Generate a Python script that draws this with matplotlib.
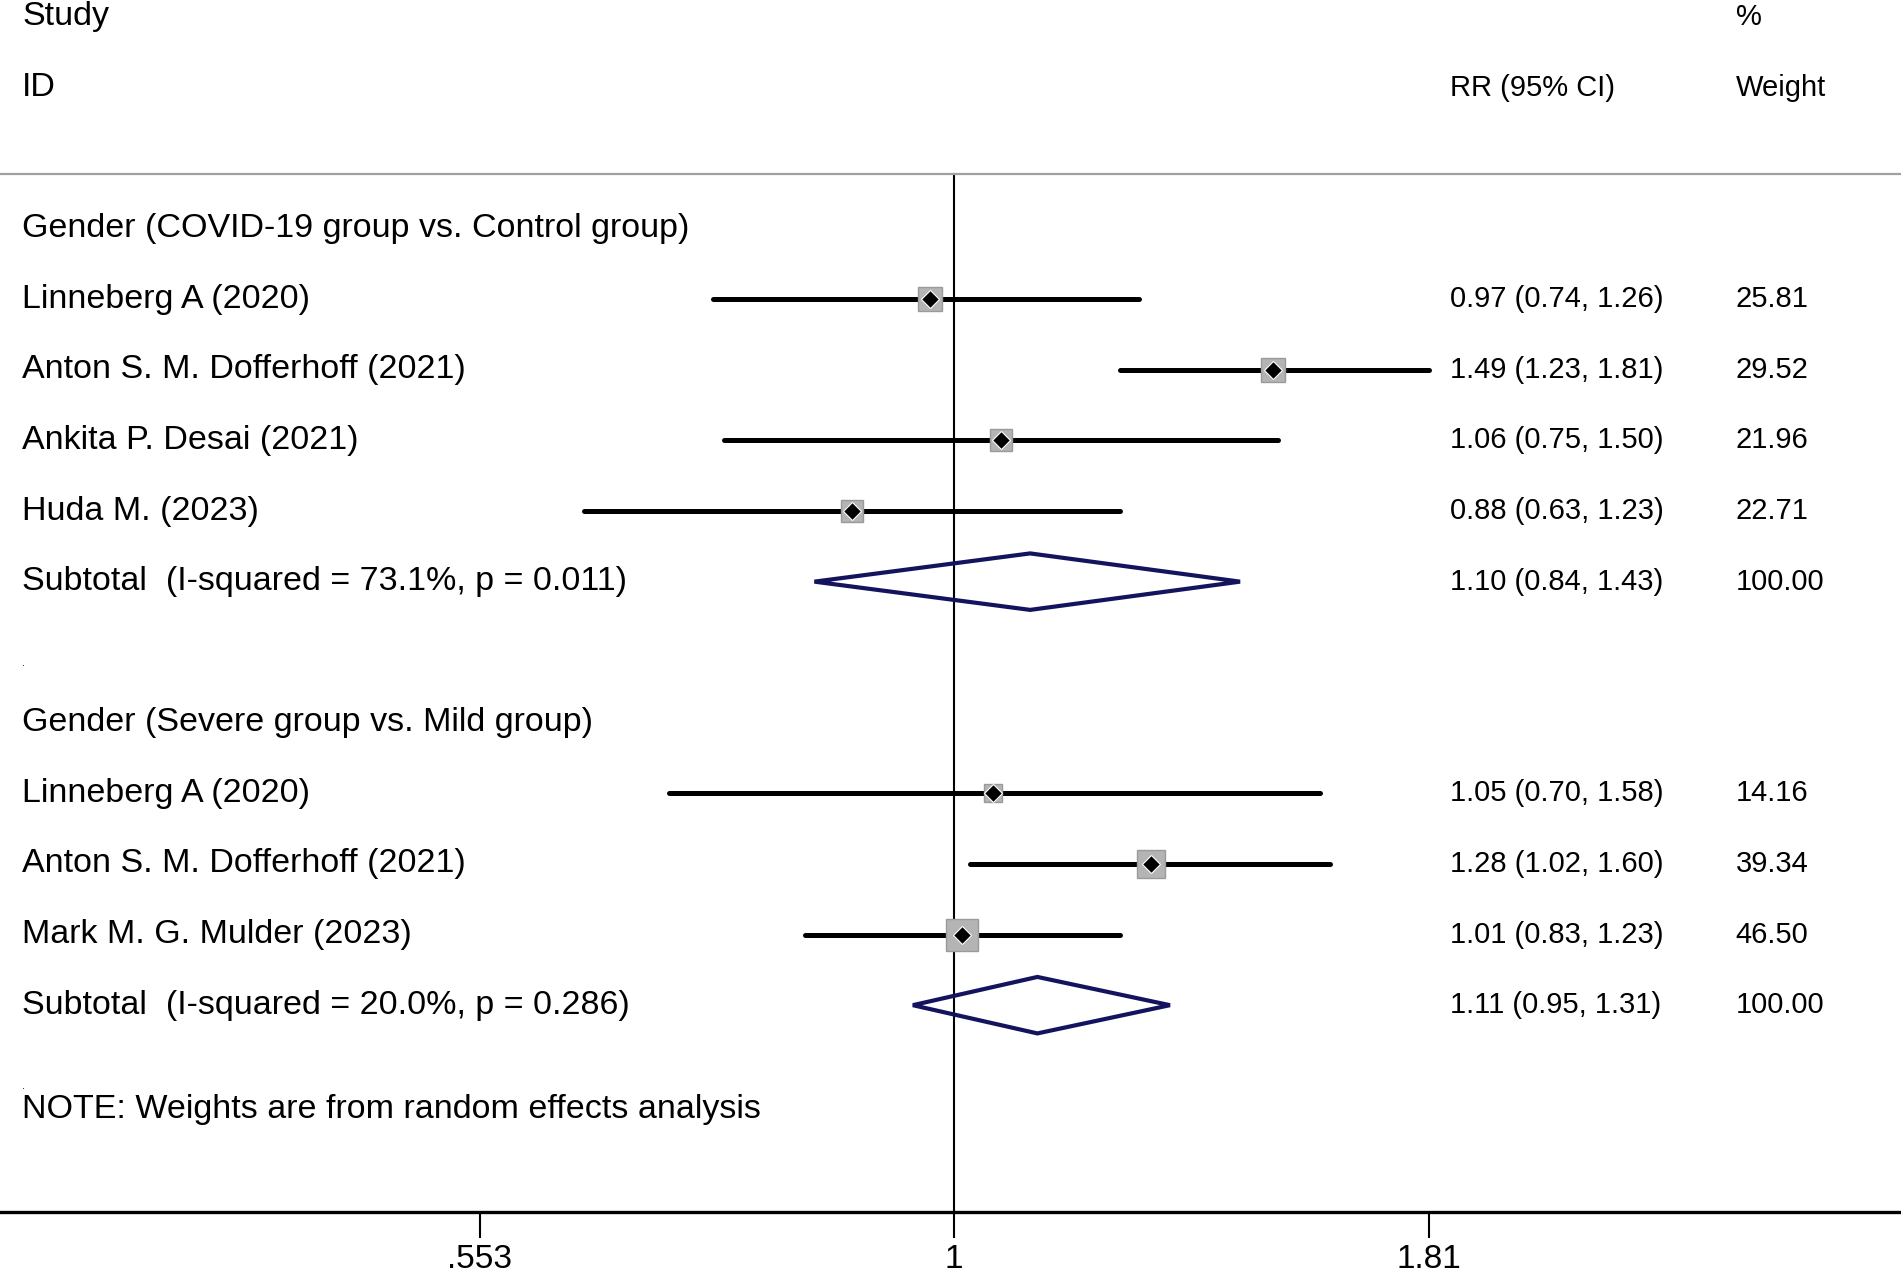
import numpy as np
import matplotlib
matplotlib.use('Agg')
import matplotlib.pyplot as plt
from matplotlib.patches import Polygon
from matplotlib.ticker import FixedLocator, FixedFormatter, NullLocator

plt.rcParams['font.family'] = ['Liberation Sans', 'DejaVu Sans']

# data
group_titles = ['Gender (COVID-19 group vs. Control group)',
                'Gender (Severe group vs. Mild group)']

studies_1 = ['Linneberg A (2020)', 'Anton S. M. Dofferhoff (2021)',
             'Ankita P. Desai (2021)', 'Huda M. (2023)']
rr_1 = [0.97, 1.49, 1.06, 0.88]
lo_1 = [0.74, 1.23, 0.75, 0.63]
hi_1 = [1.26, 1.81, 1.50, 1.23]
wt_1 = [25.81, 29.52, 21.96, 22.71]
sub_1 = [1.10, 0.84, 1.43]
het_1 = 'Subtotal  (I-squared = 73.1%, p = 0.011)'

studies_2 = ['Linneberg A (2020)', 'Anton S. M. Dofferhoff (2021)',
             'Mark M. G. Mulder (2023)']
rr_2 = [1.05, 1.28, 1.01]
lo_2 = [0.70, 1.02, 0.83]
hi_2 = [1.58, 1.60, 1.23]
wt_2 = [14.16, 39.34, 46.50]
sub_2 = [1.11, 0.95, 1.31]
het_2 = 'Subtotal  (I-squared = 20.0%, p = 0.286)'

tick_vals = [0.553, 1, 1.81]
tick_labels = ['.553', '1', '1.81']
note = 'NOTE: Weights are from random effects analysis'

FS_L = 24.5   # left labels
FS_R = 21     # RR / weight columns
FS_T = 24     # tick labels
NAVY = '#14145e'

fig = plt.figure(figsize=(19.01, 12.79), dpi=100)
ax = fig.add_axes([0, 1 - 1212 / 1279, 1, 1212 / 1279])
ax.set_xscale('log')
ax.set_xlim(0.3035, 3.267)
ax.set_ylim(16.93, -0.24)

for s in ['top', 'left', 'right']:
    ax.spines[s].set_visible(False)
ax.spines['bottom'].set_linewidth(2.4)
ax.yaxis.set_major_locator(NullLocator())
ax.xaxis.set_minor_locator(NullLocator())
ax.xaxis.set_major_locator(FixedLocator(tick_vals))
ax.xaxis.set_major_formatter(FixedFormatter(tick_labels))
ax.tick_params(axis='x', length=19, width=1.5, pad=4, labelsize=FS_T)

tx = ax.get_yaxis_transform()  # x in axes fraction, y in data
X_LAB, X_RR, X_WT = 0.0116, 0.763, 0.913

# header
ax.text(X_LAB, 0, 'Study', transform=tx, fontsize=FS_L, va='center')
ax.text(X_LAB, 1, 'ID', transform=tx, fontsize=FS_L, va='center')
ax.text(X_RR, 1, 'RR (95% CI)', transform=tx, fontsize=FS_R, va='center')
ax.text(X_WT, 0, '%', transform=tx, fontsize=FS_R, va='center')
ax.text(X_WT, 1, 'Weight', transform=tx, fontsize=FS_R, va='center')
ax.axhline(2.22, color='#a0a0a0', lw=1.6)
ax.plot([1, 1], [2.22, 16.93], color='black', lw=1.5, zorder=1)


def draw_group(y0, title, studies, rr, lo, hi, wt, sub, het):
    ax.text(X_LAB, y0, title, transform=tx, fontsize=FS_L, va='center')
    for i, name in enumerate(studies):
        y = y0 + 1 + i
        ax.text(X_LAB, y, name, transform=tx, fontsize=FS_L, va='center')
        ax.plot([lo[i], hi[i]], [y, y], color='black', lw=3.6,
                solid_capstyle='round', zorder=2)
        side = 4.6 * np.sqrt(wt[i]) * 0.72
        ax.plot(rr[i], y, marker='s', ms=side, color='#b4b4b4',
                mec='#9a9a9a', mew=1, zorder=3)
        ax.plot(rr[i], y, marker='D', ms=9.5, color='black',
                mec='white', mew=0.8, zorder=4)
        ax.text(X_RR, y, f'{rr[i]:.2f} ({lo[i]:.2f}, {hi[i]:.2f})',
                transform=tx, fontsize=FS_R, va='center')
        ax.text(X_WT, y, f'{wt[i]:.2f}', transform=tx, fontsize=FS_R, va='center')
    ys = y0 + 1 + len(studies)
    est, l, h = sub
    ax.add_patch(Polygon([[l, ys], [est, ys - 0.4], [h, ys], [est, ys + 0.4]],
                         closed=True, fill=False, edgecolor=NAVY, lw=3.0, zorder=3))
    ax.text(X_LAB, ys, het, transform=tx, fontsize=FS_L, va='center')
    ax.text(X_RR, ys, f'{est:.2f} ({l:.2f}, {h:.2f})', transform=tx,
            fontsize=FS_R, va='center')
    ax.text(X_WT, ys, f'{100:.2f}', transform=tx, fontsize=FS_R, va='center')
    ax.text(X_LAB, ys + 1.15, '.', transform=tx, fontsize=8, va='center')
    return ys + 2


y_next = draw_group(3, group_titles[0], studies_1, rr_1, lo_1, hi_1, wt_1, sub_1, het_1)
draw_group(y_next, group_titles[1], studies_2, rr_2, lo_2, hi_2, wt_2, sub_2, het_2)
ax.text(X_LAB, 15.48, note, transform=tx, fontsize=FS_L, va='center')

fig.savefig('out.png', dpi=100)
